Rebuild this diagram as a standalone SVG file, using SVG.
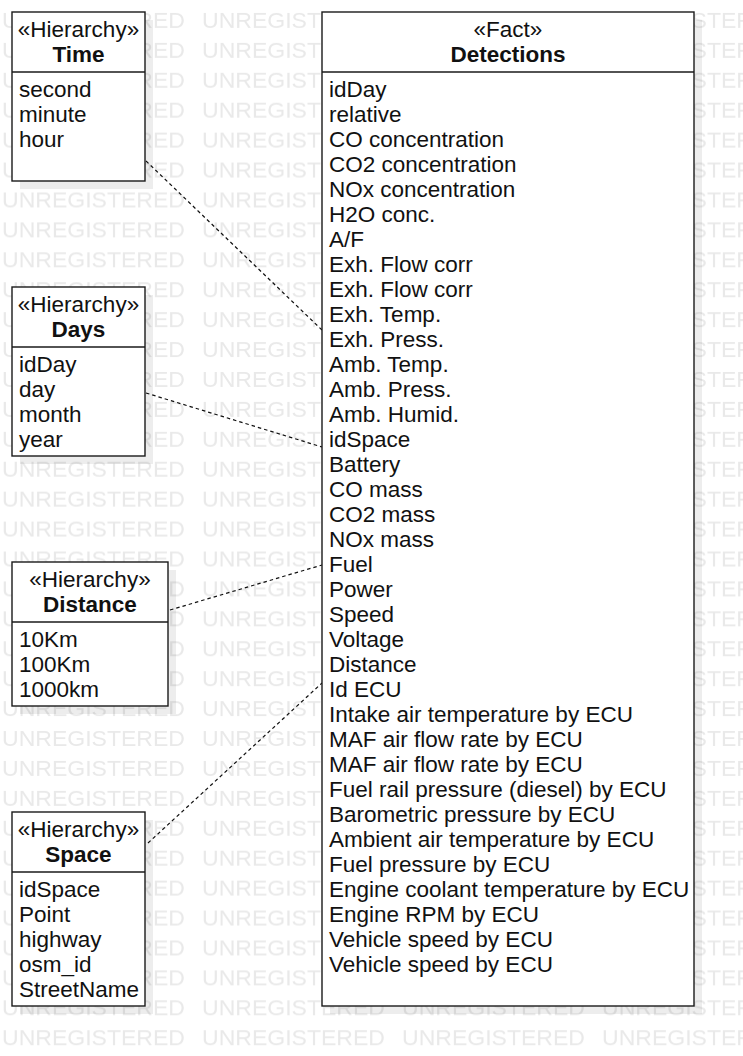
<svg xmlns="http://www.w3.org/2000/svg" width="743" height="1056" viewBox="0 0 743 1056">
<style>
.box{fill:#fff;stroke:#1a1a1a;stroke-width:1.4}
.shadow{fill:#000;fill-opacity:0.07}
.div{stroke:#1a1a1a;stroke-width:1.4}
text{font-family:"Liberation Sans",Arial,sans-serif;font-size:22.5px;fill:#111}
.st{text-anchor:middle}
.nm{text-anchor:middle;font-weight:bold}
.wm{fill:#e9e9e9;font-size:22px}
.conn{stroke:#111;stroke-width:1.2;stroke-dasharray:3.5,3;fill:none}
</style>
<defs>
<pattern id="wm" patternUnits="userSpaceOnUse" x="0" y="0" width="200" height="29.92">
<text class="wm" x="2" y="28" textLength="183" lengthAdjust="spacingAndGlyphs">UNREGISTERED</text>
</pattern>
</defs>
<rect width="743" height="1056" fill="#fff"/>
<g id="watermark"><rect width="743" height="1056" fill="url(#wm)"/></g>

<g id="connectors">
<line class="conn" x1="146" y1="161" x2="322" y2="330"/>
<line class="conn" x1="146" y1="393" x2="322" y2="447"/>
<line class="conn" x1="170" y1="610" x2="322" y2="565"/>
<line class="conn" x1="148" y1="843" x2="322" y2="683"/>
</g>

<g id="node-time">
<rect class="shadow" x="20" y="20" width="133" height="169"/>
<rect class="box" x="12" y="12" width="133" height="169"/>
<line class="div" x1="12" y1="72" x2="145" y2="72"/>
<text class="st" x="78.5" y="37">«Hierarchy»</text>
<text class="nm" x="78.5" y="62">Time</text>
<text x="19" y="97">second</text>
<text x="19" y="122">minute</text>
<text x="19" y="147">hour</text>
</g>

<g id="node-days">
<rect class="shadow" x="20" y="295" width="133" height="169"/>
<rect class="box" x="12" y="287" width="133" height="169"/>
<line class="div" x1="12" y1="347" x2="145" y2="347"/>
<text class="st" x="78.5" y="312">«Hierarchy»</text>
<text class="nm" x="78.5" y="337">Days</text>
<text x="19" y="372">idDay</text>
<text x="19" y="397">day</text>
<text x="19" y="422">month</text>
<text x="19" y="447">year</text>
</g>

<g id="node-distance">
<rect class="shadow" x="20" y="570" width="156" height="144"/>
<rect class="box" x="12" y="562" width="156" height="144"/>
<line class="div" x1="12" y1="622" x2="168" y2="622"/>
<text class="st" x="90" y="587">«Hierarchy»</text>
<text class="nm" x="90" y="612">Distance</text>
<text x="19" y="647">10Km</text>
<text x="19" y="672">100Km</text>
<text x="19" y="697">1000km</text>
</g>

<g id="node-space">
<rect class="shadow" x="20" y="820" width="133" height="194"/>
<rect class="box" x="12" y="812" width="133" height="194"/>
<line class="div" x1="12" y1="872" x2="145" y2="872"/>
<text class="st" x="78.5" y="837">«Hierarchy»</text>
<text class="nm" x="78.5" y="862">Space</text>
<text x="19" y="897">idSpace</text>
<text x="19" y="922">Point</text>
<text x="19" y="947">highway</text>
<text x="19" y="972">osm_id</text>
<text x="19" y="997">StreetName</text>
</g>

<g id="node-detections">
<rect class="shadow" x="330" y="20" width="372" height="994"/>
<rect class="box" x="322" y="12" width="372" height="994"/>
<line class="div" x1="322" y1="72" x2="694" y2="72"/>
<text class="st" x="508" y="37">«Fact»</text>
<text class="nm" x="508" y="62">Detections</text>
<text x="329" y="97">idDay</text>
<text x="329" y="122">relative</text>
<text x="329" y="147">CO concentration</text>
<text x="329" y="172">CO2 concentration</text>
<text x="329" y="197">NOx concentration</text>
<text x="329" y="222">H2O conc.</text>
<text x="329" y="247">A/F</text>
<text x="329" y="272">Exh. Flow corr</text>
<text x="329" y="297">Exh. Flow corr</text>
<text x="329" y="322">Exh. Temp.</text>
<text x="329" y="347">Exh. Press.</text>
<text x="329" y="372">Amb. Temp.</text>
<text x="329" y="397">Amb. Press.</text>
<text x="329" y="422">Amb. Humid.</text>
<text x="329" y="447">idSpace</text>
<text x="329" y="472">Battery</text>
<text x="329" y="497">CO mass</text>
<text x="329" y="522">CO2 mass</text>
<text x="329" y="547">NOx mass</text>
<text x="329" y="572">Fuel</text>
<text x="329" y="597">Power</text>
<text x="329" y="622">Speed</text>
<text x="329" y="647">Voltage</text>
<text x="329" y="672">Distance</text>
<text x="329" y="697">Id ECU</text>
<text x="329" y="722">Intake air temperature by ECU</text>
<text x="329" y="747">MAF air flow rate by ECU</text>
<text x="329" y="772">MAF air flow rate by ECU</text>
<text x="329" y="797">Fuel rail pressure (diesel) by ECU</text>
<text x="329" y="822">Barometric pressure by ECU</text>
<text x="329" y="847">Ambient air temperature by ECU</text>
<text x="329" y="872">Fuel pressure by ECU</text>
<text x="329" y="897">Engine coolant temperature by ECU</text>
<text x="329" y="922">Engine RPM by ECU</text>
<text x="329" y="947">Vehicle speed by ECU</text>
<text x="329" y="972">Vehicle speed by ECU</text>
</g>
</svg>
